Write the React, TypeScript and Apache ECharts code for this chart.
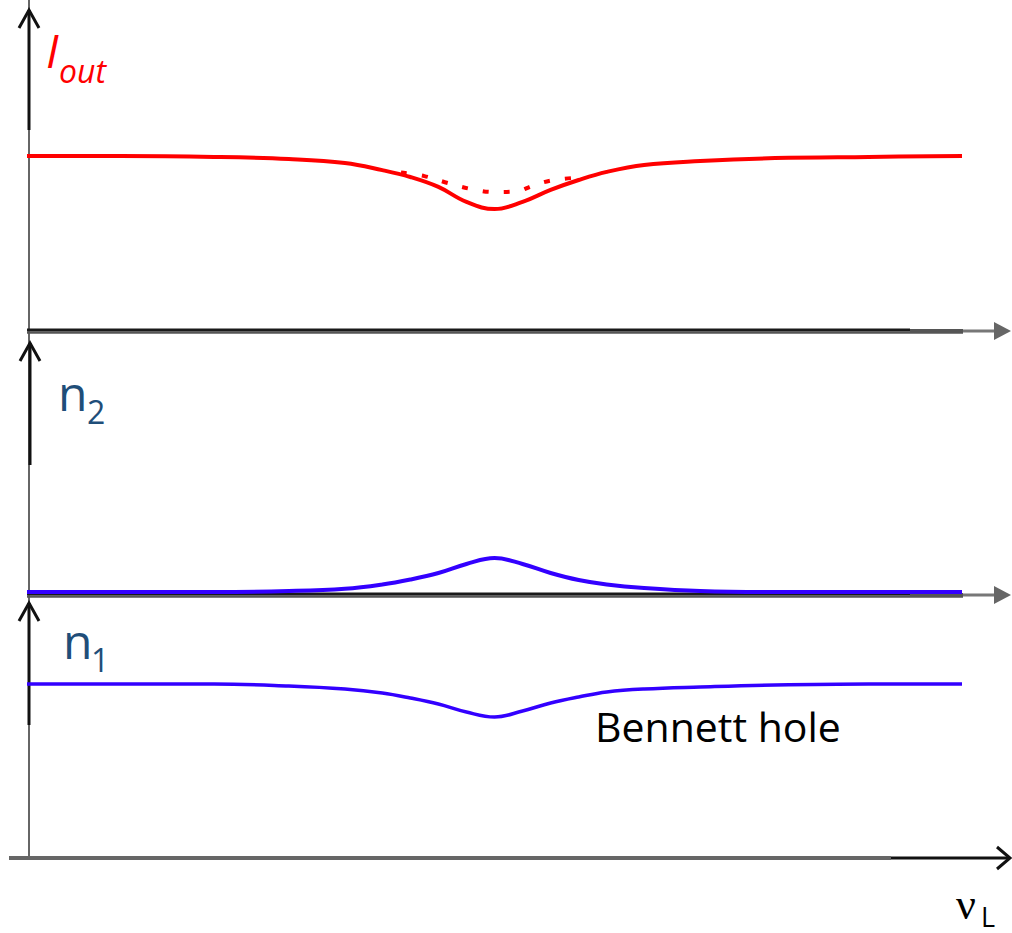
import React, { useEffect, useRef } from "react";
import * as echarts from "echarts";

// Laser detuning (arbitrary units), centre of the gain profile at 0
const detuning = [-50, -40, -30, -22, -16, -12, -9, -6, -3, 0, 3, 6, 9, 12, 16, 22, 30, 40, 50];
// Output intensity (solid: with Lamb dip)
const iOutSolid = [58, 58, 57.7, 57, 55.7, 53.3, 51, 47.7, 42.7, 40.3, 42.7, 46.7, 50, 52.7, 55, 56.3, 57.3, 57.7, 58];
// Output intensity without hole (dotted)
const holeDetuning = [-10, -7.5, -5, -2.5, 0, 2.5, 4, 6, 8.5];
const iOutDotted = [52.5, 51.3, 49, 47, 46, 46.3, 48, 49.8, 50.7];
// Upper level population n2
const n2Values = [1.6, 1.6, 1.6, 2, 2.9, 4.6, 6.6, 9.2, 12.8, 15.2, 12.8, 9.2, 6.4, 4.6, 3.2, 2, 1.6, 1.6, 1.6];
// Lower level population n1
const n1Values = [69.6, 69.6, 69.6, 68.8, 67.6, 66, 64, 61.6, 58.4, 56.4, 58.8, 62, 64.4, 66.4, 67.6, 68.4, 69.2, 69.6, 69.6];

const FONT = "'Open Sans', 'Noto Sans', sans-serif";

function pairs(xs: number[], ys: number[]) {
  return xs.map((x, i) => [x, ys[i]]);
}

export default function App() {
  const ref = useRef<HTMLDivElement>(null);
  useEffect(() => {
    if (!ref.current) return;
    const chart = echarts.init(ref.current, undefined, { renderer: "svg" });
    const grids = [
      { left: 27, width: 935, top: 30, height: 300 },
      { left: 27, width: 935, top: 346, height: 250 },
      { left: 27, width: 935, top: 608, height: 250 },
    ];
    const xAxes = grids.map((_, i) => ({
      type: "value", gridIndex: i, min: -50, max: 50, show: false,
    }));
    const yAxes = grids.map((_, i) => ({
      type: "value", gridIndex: i, min: 0, max: 100, show: false,
    }));
    const red = "#ff0000";
    const blue = "#3300ff";
    const lineG = (x1: number, y1: number, x2: number, y2: number, stroke: string, w: number, z = 1) => ({
      type: "line", z, shape: { x1, y1, x2, y2 }, style: { stroke, lineWidth: w },
    });
    const chevronUp = (x: number, y: number) => ({
      type: "polyline", z: 3,
      shape: { points: [[x - 10, y + 18], [x, y], [x + 10, y + 18]] },
      style: { stroke: "#111", lineWidth: 3, fill: null },
    });
    const txt = (text: string, x: number, y: number, size: number, fill: string, style = "normal", family = FONT) => ({
      type: "text", z: 10, x, y,
      style: { text, fill, font: `${style} ${size}px ${family}`, align: "left", verticalAlign: "middle" },
    });
    const horizAxis = (y: number) => [
      lineG(27, y - 1, 910, y - 1, "#1a1a1a", 3),
      lineG(27, y + 1.5, 963, y + 1.5, "#555", 2.5),
      lineG(910, y, 963, y, "#555", 4),
      lineG(963, y, 996, y, "#777", 3),
      {
        type: "polygon", z: 2,
        shape: { points: [[994, y - 9], [1011, y], [994, y + 9]] },
        style: { fill: "#666" },
      },
    ];
    const option = {
      animation: false,
      backgroundColor: "#fff",
      grid: grids,
      xAxis: xAxes,
      yAxis: yAxes,
      series: [
        {
          type: "line", xAxisIndex: 0, yAxisIndex: 0, z: 5, smooth: 0.4, symbol: "none",
          data: pairs(detuning, iOutSolid), lineStyle: { color: red, width: 4 },
        },
        {
          type: "line", xAxisIndex: 0, yAxisIndex: 0, z: 5, smooth: 0.4, symbol: "none",
          data: pairs(holeDetuning, iOutDotted), lineStyle: { color: red, width: 4, type: [6, 15] },
        },
        {
          type: "line", xAxisIndex: 1, yAxisIndex: 1, z: 5, smooth: 0.4, symbol: "none",
          data: pairs(detuning, n2Values), lineStyle: { color: blue, width: 4 },
        },
        {
          type: "line", xAxisIndex: 2, yAxisIndex: 2, z: 5, smooth: 0.4, symbol: "none",
          data: pairs(detuning, n1Values), lineStyle: { color: blue, width: 3.5 },
        },
      ],
      graphic: [
        // vertical gray baseline
        lineG(29, 0, 29, 858, "#666", 2),
        // vertical black arrows
        lineG(29, 130, 29, 10, "#111", 3, 3),
        chevronUp(29, 10),
        lineG(30, 465, 30, 343, "#111", 3, 3),
        chevronUp(30, 343),
        lineG(29, 725, 29, 603, "#111", 3, 3),
        chevronUp(29, 603),
        // horizontal axes
        ...horizAxis(331),
        ...horizAxis(595),
        // bottom axis
        lineG(9, 858, 891, 858, "#666", 4),
        lineG(891, 858, 1009, 858, "#111", 3, 3),
        {
          type: "polyline", z: 3,
          shape: { points: [[997, 847], [1010, 858], [997, 869]] },
          style: { stroke: "#111", lineWidth: 3, fill: null },
        },
        // labels
        txt("I", 46, 50, 46, red, "italic"),
        txt("out", 59, 70, 32, red, "italic"),
        txt("n", 58, 392, 48, "#1f4e79"),
        txt("2", 87, 411, 32, "#1f4e79"),
        txt("n", 63, 640, 48, "#1f4e79"),
        txt("1", 91, 659, 32, "#1f4e79"),
        txt("Bennett hole", 595, 726, 41, "#000"),
        txt("ν", 956, 904, 44, "#000", "normal", "'Liberation Serif', serif"),
        txt("L", 981, 916, 27, "#000"),
      ],
    };
    chart.setOption(option as any);
    return () => chart.dispose();
  }, []);
  return (
    <div
      ref={ref}
      style={{ position: "absolute", left: 0, top: 0, width: 1012, height: 933, background: "#fff" }}
    />
  );
}
